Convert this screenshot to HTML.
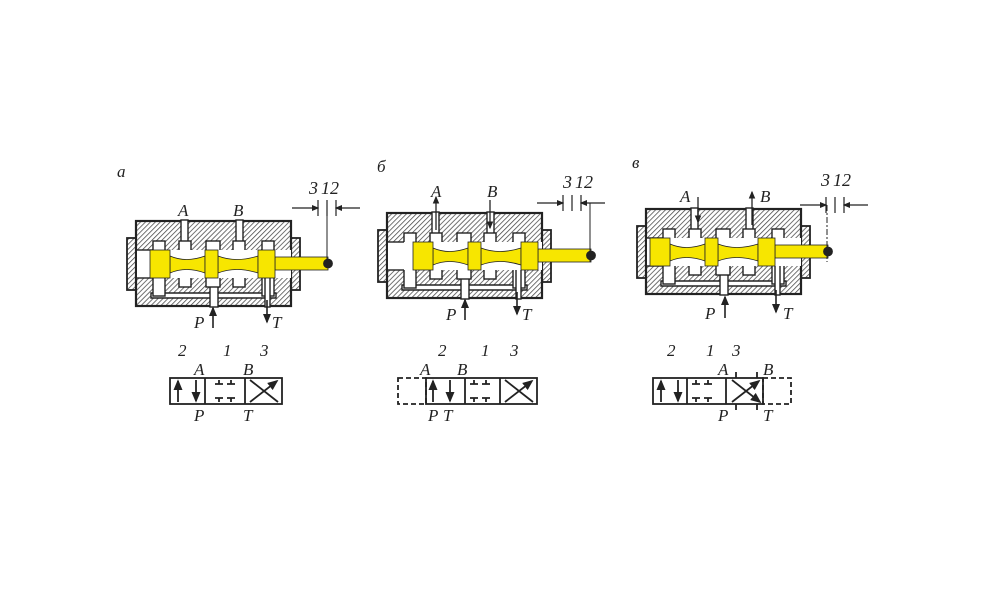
<!DOCTYPE html>
<html><head><meta charset="utf-8"><style>
html,body{margin:0;padding:0;background:#fff;width:1000px;height:615px;overflow:hidden}
svg text{font-family:"Liberation Serif",serif;font-style:italic;fill:#222}
</style></head><body>
<svg width="1000" height="615" viewBox="0 0 1000 615" xmlns="http://www.w3.org/2000/svg">
<defs>
<pattern id="h" width="3.5" height="3.5" patternUnits="userSpaceOnUse" patternTransform="rotate(45)">
<rect width="3.5" height="3.5" fill="#fff"/><line x1="0" y1="0" x2="0" y2="3.5" stroke="#444" stroke-width="1.5"/></pattern>
<marker id="ar" markerWidth="6" markerHeight="6" refX="5" refY="3" orient="auto"><path d="M0,0.5 L6,3 L0,5.5z" fill="#222"/></marker>
<g id="body">
<rect x="-9" y="17" width="10" height="52" fill="url(#h)" stroke="#222" stroke-width="1.8"/>
<rect x="154" y="17" width="10" height="52" fill="url(#h)" stroke="#222" stroke-width="1.8"/>
<rect x="0" y="0" width="155" height="85" fill="url(#h)" stroke="#222" stroke-width="2.2"/>
<g fill="#fff" stroke="#222" stroke-width="1.4">
<path d="M15,72 H140 V77 H15z"/>
<rect x="17" y="20" width="12" height="55"/>
<rect x="126" y="20" width="12" height="55"/>
<rect x="45" y="-1" width="7" height="30"/>
<rect x="100" y="-1" width="7" height="30"/>
<rect x="74" y="55" width="8" height="31"/>
<rect x="129" y="55" width="5" height="31"/>
<rect x="43" y="20" width="12" height="46"/>
<rect x="70" y="20" width="14" height="46"/>
<rect x="97" y="20" width="12" height="46"/>
<rect x="1" y="29" width="154" height="28" stroke="none"/>
</g>
<line x1="1" y1="29" x2="17" y2="29" stroke="#222" stroke-width="1.4"/><line x1="1" y1="57" x2="17" y2="57" stroke="#222" stroke-width="1.4"/>
</g>
<g id="spool" fill="#f7e600" stroke="#222" stroke-width="0.8">
<rect x="139" y="36" width="53" height="13"/>
<circle cx="192" cy="42.5" r="4.5" fill="#222"/>
<path d="M34,35 Q50,42 69,35 V52 Q50,45 34,52z"/>
<path d="M82,35 Q100,42 122,35 V52 Q100,45 82,52z"/>
<rect x="14" y="29" width="20" height="28"/>
<rect x="69" y="29" width="13" height="28"/>
<rect x="122" y="29" width="17" height="28"/>
</g>
<g id="dim" stroke="#222" stroke-width="1.2">
<line x1="0" y1="0" x2="26" y2="0" marker-end="url(#ar)"/>
<line x1="26" y1="-8" x2="26" y2="8"/><line x1="35" y1="-8" x2="35" y2="8"/><line x1="44" y1="-8" x2="44" y2="8"/>
<line x1="68" y1="0" x2="44" y2="0" marker-end="url(#ar)"/>
</g>
</defs>

<!-- panel a -->
<text x="117" y="177" font-size="17">a</text>
<g transform="translate(136,221)"><use href="#body"/><use href="#spool"/></g>
<use href="#dim" transform="translate(292,208)"/>
<line x1="327" y1="208" x2="327" y2="268" stroke="#222"/>
<text x="309" y="194" font-size="18">3</text><text x="321" y="194" font-size="18">1</text><text x="330" y="194" font-size="18">2</text>
<text x="178" y="216" font-size="17">A</text><text x="233" y="216" font-size="17">B</text>
<text x="194" y="328" font-size="17">P</text><text x="272" y="328" font-size="17">T</text>
<line x1="213" y1="328" x2="213" y2="308" stroke="#222" stroke-width="1.6" marker-end="url(#ar)"/>
<line x1="267" y1="300" x2="267" y2="322" stroke="#222" stroke-width="1.6" marker-end="url(#ar)"/>
<text x="178" y="356" font-size="17">2</text><text x="223" y="356" font-size="17">1</text><text x="260" y="356" font-size="17">3</text>
<text x="194" y="375" font-size="17">A</text><text x="243" y="375" font-size="17">B</text>
<text x="194" y="421" font-size="17">P</text><text x="243" y="421" font-size="17">T</text>
<g stroke="#222" stroke-width="1.8" fill="none">
<rect x="170" y="378" width="112" height="26"/><line x1="205" y1="378" x2="205" y2="404"/><line x1="245" y1="378" x2="245" y2="404"/>
<line x1="178" y1="402" x2="178" y2="381" marker-end="url(#ar)"/><line x1="196" y1="380" x2="196" y2="401" marker-end="url(#ar)"/>
<path d="M215,384h8M219,380v4M227,384h8M231,380v4M215,398h8M219,398v4M227,398h8M231,398v4"/>
<line x1="250" y1="380" x2="278" y2="402"/><line x1="250" y1="402" x2="277" y2="381" marker-end="url(#ar)"/>
</g>

<!-- panel b -->
<text x="377" y="172" font-size="17">б</text>
<g transform="translate(387,213)"><use href="#body"/><use href="#spool" transform="translate(12,0)"/></g>
<use href="#dim" transform="translate(537,203)"/>
<line x1="590" y1="203" x2="590" y2="262" stroke="#222"/>
<text x="563" y="188" font-size="18">3</text><text x="575" y="188" font-size="18">1</text><text x="584" y="188" font-size="18">2</text>
<text x="431" y="197" font-size="17">A</text><text x="487" y="197" font-size="17">B</text>
<line x1="436" y1="230" x2="436" y2="197" stroke="#222" stroke-width="1.3" marker-end="url(#ar)"/>
<line x1="490" y1="200" x2="490" y2="228" stroke="#222" stroke-width="1.3" marker-end="url(#ar)"/>
<text x="446" y="320" font-size="17">P</text><text x="522" y="320" font-size="17">T</text>
<line x1="465" y1="320" x2="465" y2="300" stroke="#222" stroke-width="1.6" marker-end="url(#ar)"/>
<line x1="517" y1="292" x2="517" y2="314" stroke="#222" stroke-width="1.6" marker-end="url(#ar)"/>
<text x="438" y="356" font-size="17">2</text><text x="481" y="356" font-size="17">1</text><text x="510" y="356" font-size="17">3</text>
<text x="420" y="375" font-size="17">A</text><text x="457" y="375" font-size="17">B</text>
<text x="428" y="421" font-size="17">P</text><text x="443" y="421" font-size="17">T</text>
<g stroke="#222" stroke-width="1.8" fill="none">
<rect x="398" y="378" width="28" height="26" stroke-dasharray="5,3"/>
<rect x="426" y="378" width="111" height="26"/><line x1="465" y1="378" x2="465" y2="404"/><line x1="500" y1="378" x2="500" y2="404"/>
<line x1="433" y1="402" x2="433" y2="381" marker-end="url(#ar)"/><line x1="450" y1="380" x2="450" y2="401" marker-end="url(#ar)"/>
<path d="M470,384h8M474,380v4M482,384h8M486,380v4M470,398h8M474,398v4M482,398h8M486,398v4"/>
<line x1="505" y1="380" x2="533" y2="402"/><line x1="505" y1="402" x2="532" y2="381" marker-end="url(#ar)"/>
</g>

<!-- panel c -->
<text x="632" y="168" font-size="17">в</text>
<g transform="translate(646,209)"><use href="#body"/><use href="#spool" transform="translate(-10,0)"/></g>
<use href="#dim" transform="translate(800,205)"/>
<line x1="827" y1="205" x2="827" y2="262" stroke="#222" stroke-dasharray="6,2,2,2"/>
<text x="821" y="186" font-size="18">3</text><text x="833" y="186" font-size="18">1</text><text x="842" y="186" font-size="18">2</text>
<text x="680" y="202" font-size="17">A</text><text x="760" y="202" font-size="17">B</text>
<line x1="698" y1="197" x2="698" y2="222" stroke="#222" stroke-width="1.3" marker-end="url(#ar)"/>
<line x1="752" y1="225" x2="752" y2="192" stroke="#222" stroke-width="1.3" marker-end="url(#ar)"/>
<text x="705" y="319" font-size="17">P</text><text x="783" y="319" font-size="17">T</text>
<line x1="725" y1="318" x2="725" y2="297" stroke="#222" stroke-width="1.6" marker-end="url(#ar)"/>
<line x1="776" y1="290" x2="776" y2="312" stroke="#222" stroke-width="1.6" marker-end="url(#ar)"/>
<text x="667" y="356" font-size="17">2</text><text x="706" y="356" font-size="17">1</text><text x="732" y="356" font-size="17">3</text>
<text x="718" y="375" font-size="17">A</text><text x="763" y="375" font-size="17">B</text>
<text x="718" y="421" font-size="17">P</text><text x="763" y="421" font-size="17">T</text>
<g stroke="#222" stroke-width="1.8" fill="none">
<rect x="763" y="378" width="28" height="26" stroke-dasharray="5,3"/>
<rect x="653" y="378" width="110" height="26"/><line x1="687" y1="378" x2="687" y2="404"/><line x1="726" y1="378" x2="726" y2="404"/>
<line x1="661" y1="402" x2="661" y2="381" marker-end="url(#ar)"/><line x1="678" y1="380" x2="678" y2="401" marker-end="url(#ar)"/>
<path d="M692,384h8M696,380v4M704,384h8M708,380v4M692,398h8M696,398v4M704,398h8M708,398v4"/>
<line x1="732" y1="380" x2="760" y2="402" marker-end="url(#ar)"/><line x1="732" y1="402" x2="759" y2="381" marker-end="url(#ar)"/>
<line x1="736" y1="372" x2="736" y2="378"/><line x1="757" y1="372" x2="757" y2="378"/>
<line x1="736" y1="404" x2="736" y2="410"/><line x1="757" y1="404" x2="757" y2="410"/>
</g>
</svg>
</body></html>
